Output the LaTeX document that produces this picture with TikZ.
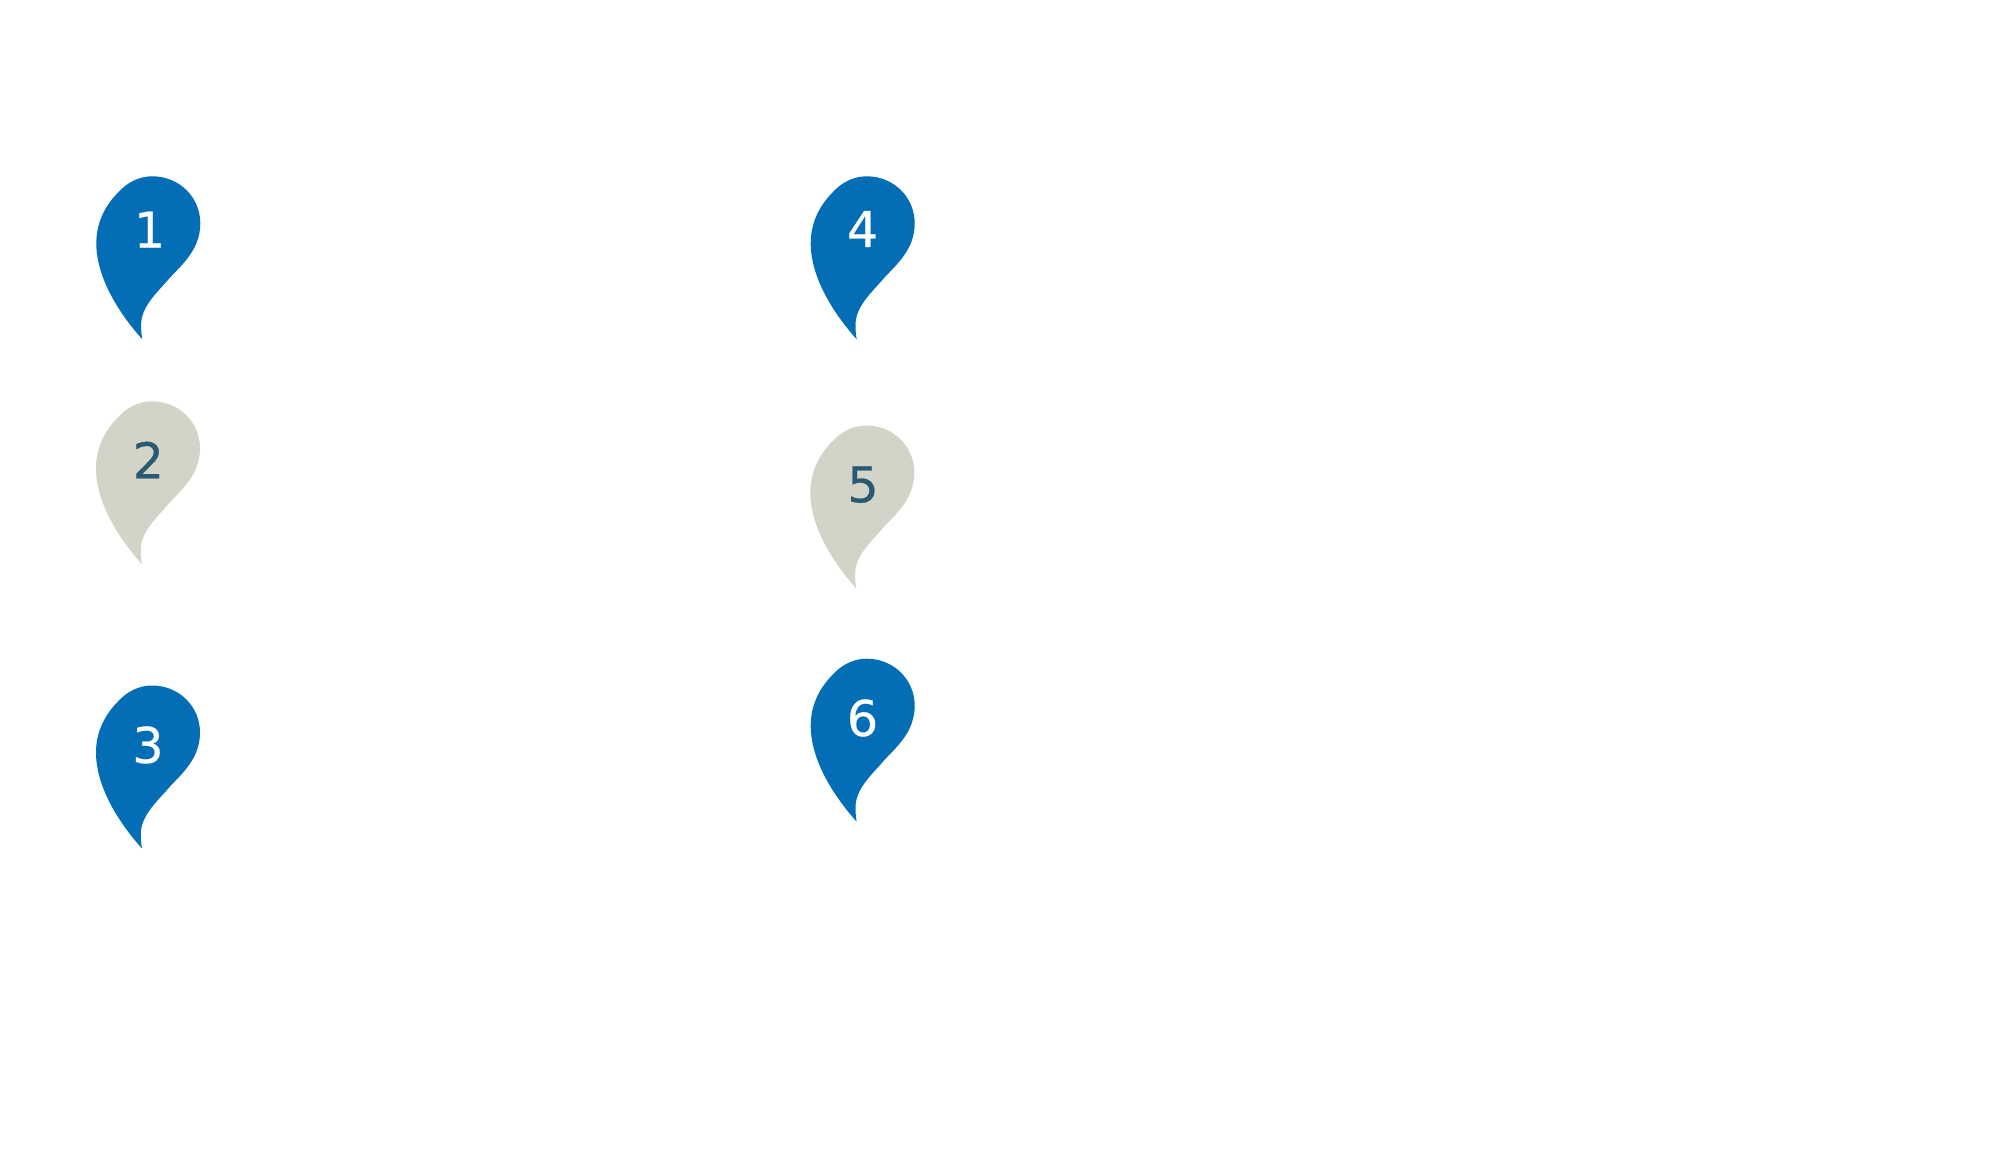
\documentclass[tikz,border=0pt]{standalone}
\usepackage{fontspec}
\setmainfont[FakeBold=0.5]{DejaVu Sans}
\definecolor{pinblue}{HTML}{036EB6}
\definecolor{pingrey}{HTML}{D3D3C7}
\definecolor{numdark}{HTML}{2A5A73}
\tikzset{
  pinblue/.style={fill=pinblue,draw=none},
  pingrey/.style={fill=pingrey,draw=none},
  pinnum/.style={font=\fontsize{14}{14}\selectfont,inner sep=0pt},
}
\newcommand{\pinshape}[3]{%
  \begin{scope}[shift={(#1,#2)}]
  \fill[#3] (0,0) .. controls (-26,-29) and (-46,-64) .. (-46,-96)
    .. controls (-46,-118) and (-36,-135) .. (-24,-147)
    .. controls (-15,-157) and (-3,-163) .. (10,-163)
    .. controls (37,-163) and (58,-142) .. (58,-116)
    .. controls (58,-90) and (40,-75) .. (28,-62)
    .. controls (16,-48) and (1,-35) .. (-1,-18)
    .. controls (-1.5,-12) and (-1,-5) .. (0,0) -- cycle;
  \end{scope}}
\begin{document}
\begin{tikzpicture}[x=0.01cm,y=-0.01cm]
\useasboundingbox (0,0) rectangle (2000,1167);
\pinshape{142.3}{339.3}{pinblue}
\pinshape{142}{564.3}{pingrey}
\pinshape{142}{848.5}{pinblue}
\pinshape{856.7}{339.3}{pinblue}
\pinshape{856.3}{588.5}{pingrey}
\pinshape{856.7}{821.7}{pinblue}
\node[pinnum,text=white] (n1) at (149.5,229.6) {1};
\node[pinnum,text=numdark] (n2) at (148.3,460) {2};
\node[pinnum,text=white] (n3) at (148,745) {3};
\node[pinnum,text=white] (n4) at (862.5,229) {4};
\node[pinnum,text=numdark] (n5) at (863,484.6) {5};
\node[pinnum,text=white] (n6) at (862.5,718) {6};
\end{tikzpicture}
\end{document}
